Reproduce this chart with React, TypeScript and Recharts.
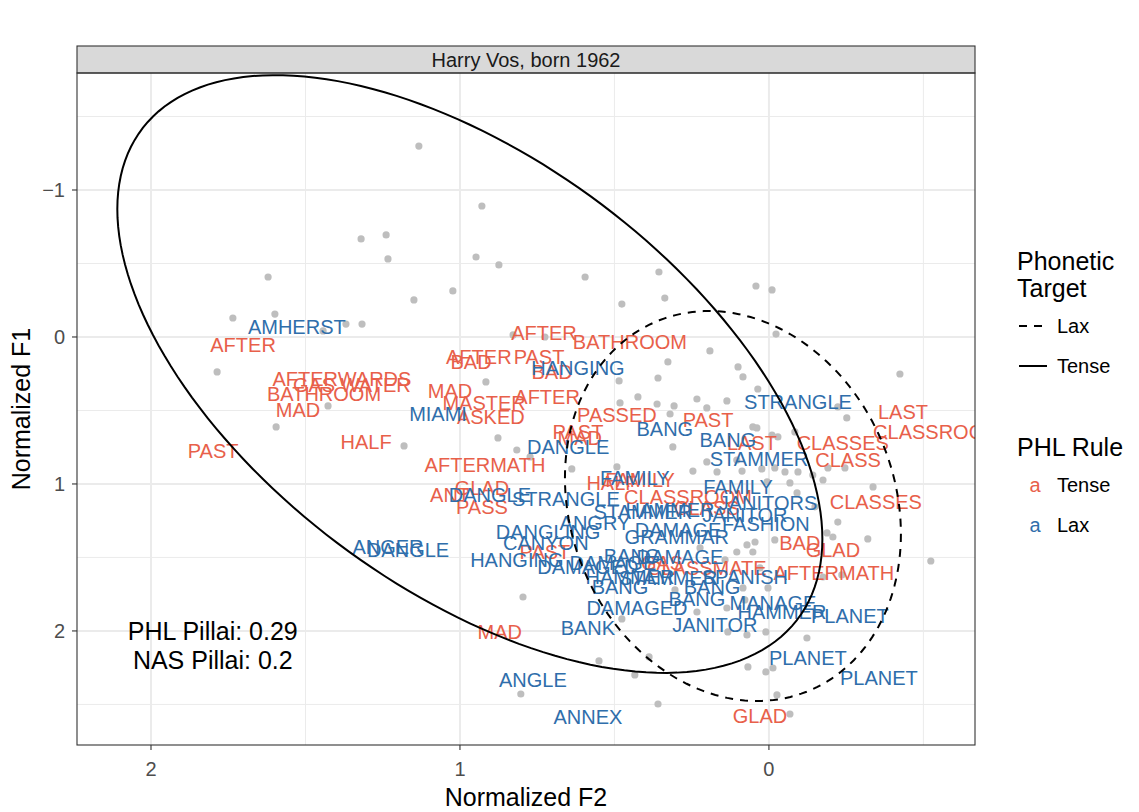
import React from 'react';
import { ScatterChart, Scatter, XAxis, YAxis, CartesianGrid } from 'recharts';

const FONT = '"Liberation Sans", Arial, Helvetica, sans-serif';
const TENSE_COLOR = '#E8604A';
const LAX_COLOR = '#2F6EAB';
const POINT_COLOR = '#BEBEBE';

// Chart frame
const W = 1123;
const H = 796;
const PAGE_H = 804;
const MARGIN = { top: 65, right: 156, bottom: 19, left: 14 };
const Y_AXIS_W = 55;
const X_AXIS_H = 40;
const PANEL = { x: MARGIN.left + Y_AXIS_W, y: MARGIN.top, w: W - MARGIN.left - Y_AXIS_W - MARGIN.right, h: H - MARGIN.top - MARGIN.bottom - X_AXIS_H };

// Axes (both reversed, as in a vowel chart)
const F2_DOMAIN: [number, number] = [-0.667, 2.2395];
const F1_DOMAIN: [number, number] = [-1.796, 2.776];
const F2_MAJOR = [2, 1, 0];
const F2_MINOR = [1.5, 0.5, -0.5];
const F1_MAJOR = [-1, 0, 1, 2];
const F1_MINOR = [-1.5, -0.5, 0.5, 1.5, 2.5];

// Labelled tokens: [word, normalized F2, normalized F1]
const tenseTokens: [string, number, number][] = [
  ['AFTER', 1.702, 0.054],
  ['PAST', 1.799, 0.776],
  ['AFTERWARDS', 1.382, 0.286],
  ['GAS WATER', 1.35, 0.327],
  ['BATHROOM', 1.44, 0.388],
  ['MAD', 1.524, 0.497],
  ['HALF', 1.304, 0.714],
  ['AFTER', 0.939, 0.136],
  ['PAST', 0.744, 0.136],
  ['BAD', 0.964, 0.17],
  ['AFTER', 0.728, -0.027],
  ['BATHROOM', 0.45, 0.034],
  ['BAD', 0.702, 0.238],
  ['MAD', 1.032, 0.367],
  ['MASTER', 0.922, 0.449],
  ['AFTER', 0.718, 0.408],
  ['ASKED', 0.9, 0.544],
  ['PASSED', 0.492, 0.531],
  ['PAST', 0.618, 0.646],
  ['MAD', 0.612, 0.687],
  ['AFTERMATH', 0.919, 0.871],
  ['PAST', 0.197, 0.565],
  ['LAST', -0.434, 0.51],
  ['CLASSROOM', -0.544, 0.646],
  ['LAST', 0.055, 0.721],
  ['CLASSES', -0.239, 0.721],
  ['CLASS', -0.256, 0.837],
  ['CLASSES', -0.346, 1.122],
  ['CLASSROOM', 0.262, 1.088],
  ['HALF', 0.508, 0.993],
  ['FAMILY', 0.417, 0.973],
  ['GLAD', 0.929, 1.027],
  ['ANT', 1.032, 1.075],
  ['PASS', 0.929, 1.156],
  ['CLASS', 0.201, 1.163],
  ['GAS', 0.346, 1.537],
  ['CLASSMATE', 0.201, 1.571],
  ['PAST', 0.725, 1.463],
  ['AFTERMATH', -0.21, 1.605],
  ['BAD', -0.1, 1.401],
  ['GLAD', -0.207, 1.449],
  ['MAD', 0.871, 2.007],
  ['GLAD', 0.029, 2.578],
];

const laxTokens: [string, number, number][] = [
  ['AMHERST', 1.528, -0.068],
  ['MIAMI', 1.071, 0.524],
  ['HANGING', 0.618, 0.211],
  ['BANG', 0.337, 0.626],
  ['DANGLE', 0.65, 0.748],
  ['STRANGLE', -0.094, 0.442],
  ['BANG', 0.133, 0.701],
  ['STAMMER', 0.032, 0.83],
  ['FAMILY', 0.1, 1.02],
  ['JANITORS', 0.003, 1.129],
  ['FAMILY', 0.434, 0.959],
  ['DANGLE', 0.903, 1.075],
  ['STRANGLE', 0.657, 1.102],
  ['STAMMER', 0.408, 1.19],
  ['HAMMER', 0.32, 1.177],
  ['JANITOR', 0.078, 1.211],
  ['FASHION', 0.01, 1.272],
  ['DAMAGE', 0.294, 1.313],
  ['GRAMMAR', 0.298, 1.361],
  ['ANGRY', 0.563, 1.265],
  ['DANGLING', 0.715, 1.327],
  ['CANYON', 0.722, 1.401],
  ['HANGING', 0.816, 1.517],
  ['DAMAGED', 0.586, 1.565],
  ['BANG', 0.443, 1.49],
  ['DAMAGE', 0.288, 1.497],
  ['DAMAGE', 0.505, 1.537],
  ['SPANISH', 0.078, 1.633],
  ['HAMMER', 0.45, 1.633],
  ['STAMMER', 0.327, 1.639],
  ['BANG', 0.482, 1.701],
  ['BANG', 0.184, 1.701],
  ['BANG', 0.233, 1.782],
  ['MANAGE', -0.013, 1.81],
  ['HAMMER', -0.042, 1.871],
  ['PLANET', -0.262, 1.898],
  ['DAMAGED', 0.427, 1.844],
  ['JANITOR', 0.175, 1.959],
  ['BANK', 0.586, 1.98],
  ['ANGER', 1.233, 1.429],
  ['DANGLE', 1.168, 1.449],
  ['ANGLE', 0.764, 2.333],
  ['ANNEX', 0.586, 2.585],
  ['PLANET', -0.126, 2.184],
  ['PLANET', -0.356, 2.32],
];

// Remaining (unlabelled) tokens: [normalized F2, normalized F1]
const otherTokens: [number, number][] = [
  [1.133, -1.299], [0.929, -0.891], [1.32, -0.667], [1.239, -0.694], [1.233, -0.531], [0.948, -0.544],
  [0.874, -0.49], [1.621, -0.408], [1.149, -0.252], [1.023, -0.313], [1.735, -0.129], [1.599, -0.156],
  [1.443, -0.041], [1.369, -0.088], [1.317, -0.088], [1.786, 0.238], [1.427, 0.469], [1.595, 0.612],
  [1.181, 0.741], [0.595, -0.408], [0.356, -0.442], [0.337, -0.265], [0.476, -0.224], [0.042, -0.347],
  [-0.01, -0.32], [0.191, 0.095], [0.327, 0.17], [0.1, 0.204], [0.084, 0.272], [0.359, 0.279],
  [0.485, 0.299], [0.424, 0.408], [0.916, 0.306], [-0.023, -0.02], [0.036, 0.354], [0.725, 0.0],
  [0.828, -0.014], [0.233, 0.422], [0.136, 0.435], [0.877, 0.687], [0.816, 0.769], [0.482, 0.449],
  [0.362, 0.456], [0.307, 0.469], [0.32, 0.524], [0.311, 0.748], [0.246, 0.912], [0.773, 0.816],
  [0.638, 0.898], [0.492, 0.884], [0.201, 0.483], [0.052, 0.612], [0.039, 0.619], [-0.029, 0.68],
  [0.201, 0.85], [0.168, 0.918], [0.087, 0.912], [0.023, 0.898], [-0.094, 0.918], [0.104, 0.837],
  [0.006, 0.986], [-0.068, 0.993], [-0.142, 0.939], [-0.084, 0.646], [-0.252, 0.551], [-0.223, 0.476],
  [-0.01, 0.667], [-0.019, 0.891], [-0.052, 0.918], [-0.191, 0.891], [-0.246, 0.891], [-0.337, 1.02],
  [-0.175, 0.973], [-0.091, 1.061], [-0.149, 1.156], [-0.223, 1.259], [-0.188, 1.333], [-0.207, 1.361],
  [-0.32, 1.374], [-0.524, 1.524], [0.045, 1.395], [0.071, 1.415], [0.052, 1.463], [-0.019, 1.381],
  [0.084, 1.707], [0.003, 1.707], [-0.175, 1.633], [-0.236, 1.619], [0.104, 1.463], [0.233, 1.871],
  [0.136, 1.844], [0.071, 2.027], [0.133, 2.007], [-0.123, 2.048], [0.476, 1.918], [0.304, 1.721],
  [0.55, 2.204], [0.388, 2.177], [0.434, 2.299], [0.803, 2.429], [0.359, 2.497], [0.068, 2.245],
  [0.01, 2.279], [-0.013, 2.252], [-0.026, 2.435], [-0.068, 2.565], [0.796, 1.769], [-0.424, 0.252],
  [0.01, 2.007], [0.223, 1.435], [0.142, 1.517], [0.029, 1.571], [0.078, 1.789],
];

// 95% ellipses: centre and two conjugate semi-axis vectors, in data units
const tenseEllipse = { center: [0.968, 0.252], u: [-1.141, 1.122], v: [0, 1.696] };
const laxEllipse = { center: [0.1165, 1.15], u: [-0.5437, 0.1905], v: [0, 1.3128] };

// Pillai scores printed in the panel
const pillaiNotes: [string, number, number][] = [
  ['PHL Pillai: 0.29', 1.8, 2.0],
  ['NAS Pillai: 0.2', 1.8, 2.197],
];

type Ell = { center: number[]; u: number[]; v: number[] };
function ellipseOutline(e: Ell, steps = 180) {
  const pts: { f2: number; f1: number }[] = [];
  for (let i = 0; i <= steps; i++) {
    const t = (2 * Math.PI * i) / steps;
    pts.push({
      f2: e.center[0] + e.u[0] * Math.cos(t) + e.v[0] * Math.sin(t),
      f1: e.center[1] + e.u[1] * Math.cos(t) + e.v[1] * Math.sin(t),
    });
  }
  return pts;
}

const toRows = (rows: [string, number, number][]) => rows.map(([word, f2, f1]) => ({ word, f2, f1 }));
const tenseData = toRows(tenseTokens);
const laxData = toRows(laxTokens);
const noteData = toRows(pillaiNotes);
const pointData = otherTokens.map(([f2, f1]) => ({ f2, f1 }));
const tenseOutline = ellipseOutline(tenseEllipse);
const laxOutline = ellipseOutline(laxEllipse);

const wordShape = (color: string, size: number) => (props: any) => {
  const { cx, cy, payload } = props;
  return (
    <text x={cx} y={cy} textAnchor="middle" dominantBaseline="central" fill={color} fontSize={size} fontFamily={FONT}>
      {payload.word}
    </text>
  );
};

const dotShape = (props: any) => <circle cx={props.cx} cy={props.cy} r={3.6} fill={POINT_COLOR} />;
const noShape = () => <g />;

const fmt = (v: number) => String(v).replace('-', '\u2212');
const tickStyle = { fill: '#4D4D4D', fontSize: 20, fontFamily: FONT };

export default function App() {
  const legendX = 1009;
  const yTitleX = 13;
  const title = { fontSize: 25, fill: '#000', fontFamily: FONT };
  const item = { fontSize: 20, fill: '#000', fontFamily: FONT };
  return (
    <div style={{ position: 'relative', width: W, height: PAGE_H, fontFamily: FONT }}>
      <ScatterChart width={W} height={H} margin={MARGIN}>
        <CartesianGrid stroke="#EBEBEB" strokeWidth={1} verticalValues={F2_MINOR} horizontalValues={F1_MINOR} />
        <CartesianGrid stroke="#EBEBEB" strokeWidth={2} verticalValues={F2_MAJOR} horizontalValues={F1_MAJOR} />
        <XAxis
          type="number"
          dataKey="f2"
          domain={F2_DOMAIN}
          reversed
          allowDataOverflow
          ticks={F2_MAJOR}
          interval={0}
          tickFormatter={fmt}
          axisLine={false}
          tickLine={{ stroke: '#333333', strokeWidth: 1.1 }}
          tickSize={5}
          tickMargin={12}
          height={X_AXIS_H}
          tick={tickStyle}
        />
        <YAxis
          type="number"
          dataKey="f1"
          domain={F1_DOMAIN}
          reversed
          allowDataOverflow
          ticks={F1_MAJOR}
          interval={0}
          tickFormatter={fmt}
          axisLine={false}
          tickLine={{ stroke: '#333333', strokeWidth: 1.1 }}
          tickSize={5}
          tickMargin={7}
          width={Y_AXIS_W}
          tick={tickStyle}
        />
        <Scatter data={pointData} shape={dotShape} isAnimationActive={false} />
        <Scatter data={tenseData} shape={wordShape(TENSE_COLOR, 20)} isAnimationActive={false} />
        <Scatter data={laxData} shape={wordShape(LAX_COLOR, 20)} isAnimationActive={false} />
        <Scatter data={noteData} shape={wordShape('#000000', 25)} isAnimationActive={false} />
        <Scatter
          data={tenseOutline}
          shape={noShape}
          line={{ stroke: '#000000', strokeWidth: 2, fill: 'none' }}
          isAnimationActive={false}
        />
        <Scatter
          data={laxOutline}
          shape={noShape}
          line={{ stroke: '#000000', strokeWidth: 2, strokeDasharray: '8 7', fill: 'none' }}
          isAnimationActive={false}
        />
      </ScatterChart>

      <svg width={W} height={PAGE_H} style={{ position: 'absolute', left: 0, top: 0, pointerEvents: 'none' }}>
        {/* facet strip */}
        <rect x={PANEL.x} y={PANEL.y - 27} width={PANEL.w} height={27} fill="#D9D9D9" stroke="#333333" strokeWidth={1.1} />
        <text x={PANEL.x + PANEL.w / 2} y={PANEL.y - 13.5} textAnchor="middle" dominantBaseline="central" fontSize={20} fill="#1A1A1A" fontFamily={FONT}>
          Harry Vos, born 1962
        </text>
        {/* panel border */}
        <rect x={PANEL.x} y={PANEL.y} width={PANEL.w} height={PANEL.h} fill="none" stroke="#333333" strokeWidth={1.1} />

        {/* axis titles */}
        <text x={PANEL.x + PANEL.w / 2} y={789} textAnchor="middle" dominantBaseline="central" {...title}>
          Normalized F2
        </text>
        <text x={yTitleX} y={PANEL.y + PANEL.h / 2} textAnchor="middle" dominantBaseline="central" {...title} transform={`rotate(-90 ${yTitleX} ${PANEL.y + PANEL.h / 2})`}>
          Normalized F1
        </text>

        {/* legend: ellipse line type */}
        <text x={legendX} y={253} dominantBaseline="central" {...title}>Phonetic</text>
        <text x={legendX} y={280} dominantBaseline="central" {...title}>Target</text>
        <line x1={legendX + 2} x2={legendX + 30} y1={318} y2={318} stroke="#000" strokeWidth={2} strokeDasharray="8 7" />
        <text x={legendX + 40} y={318} dominantBaseline="central" {...item}>Lax</text>
        <line x1={legendX + 2} x2={legendX + 30} y1={358} y2={358} stroke="#000" strokeWidth={2} />
        <text x={legendX + 40} y={358} dominantBaseline="central" {...item}>Tense</text>

        {/* legend: label colour */}
        <text x={legendX} y={439} dominantBaseline="central" {...title}>PHL Rule</text>
        <text x={legendX + 18} y={477} textAnchor="middle" dominantBaseline="central" fontSize={20} fill={TENSE_COLOR} fontFamily={FONT}>a</text>
        <text x={legendX + 40} y={477} dominantBaseline="central" {...item}>Tense</text>
        <text x={legendX + 18} y={517} textAnchor="middle" dominantBaseline="central" fontSize={20} fill={LAX_COLOR} fontFamily={FONT}>a</text>
        <text x={legendX + 40} y={517} dominantBaseline="central" {...item}>Lax</text>
      </svg>
    </div>
  );
}
